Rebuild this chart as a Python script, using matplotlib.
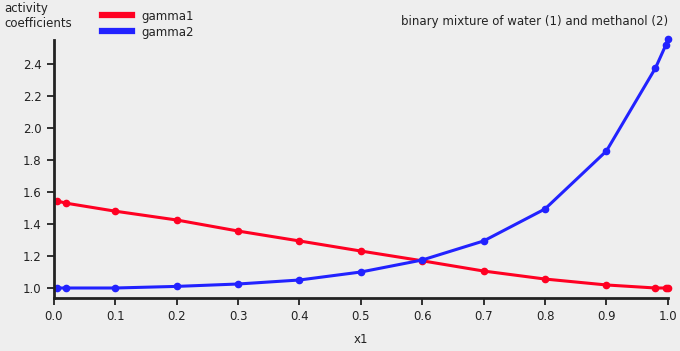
import matplotlib
matplotlib.use("Agg")
import matplotlib.pyplot as plt

# mole fraction of water and activity coefficients
x1 = [0.005, 0.02, 0.1, 0.2, 0.3, 0.4, 0.5, 0.6, 0.7, 0.8, 0.9, 0.98, 0.997, 1.0]
gamma1 = [1.544, 1.53, 1.48, 1.425, 1.356, 1.294, 1.231, 1.17, 1.106, 1.056, 1.019, 1.0, 1.0, 1.0]
gamma2 = [1.0, 1.0, 1.0, 1.01, 1.025, 1.05, 1.1, 1.175, 1.294, 1.494, 1.856, 2.375, 2.52, 2.556]

xticks = [0.0, 0.1, 0.2, 0.3, 0.4, 0.5, 0.6, 0.7, 0.8, 0.9, 1.0]
yticks = [1.0, 1.2, 1.4, 1.6, 1.8, 2.0, 2.2, 2.4]

bg = '#eeeeee'
red = '#ff0022'
blue = '#2222ff'
dark = '#222222'
fs = 8.5

fig = plt.figure(figsize=(6.8, 3.51), dpi=100, facecolor=bg)
ax = fig.add_axes([0.0794, 0.151, 0.9026, 0.735], facecolor=bg)

l1, = ax.plot(x1, gamma1, color=red, lw=2.2, marker='o', ms=4.5, label='gamma1', clip_on=False)
l2, = ax.plot(x1, gamma2, color=blue, lw=2.2, marker='o', ms=4.5, label='gamma2', clip_on=False)

ax.set_xlim(0, 1.0)
ax.set_ylim(0.9375, 2.55)
ax.set_xticks(xticks)
ax.set_xticklabels(['%.1f' % v for v in xticks])
ax.set_yticks(yticks)
ax.set_yticklabels(['%.1f' % v for v in yticks])
ax.tick_params(direction='out', length=5, width=1.3, color=dark, labelcolor=dark, labelsize=fs, pad=4)

for s in ['top', 'right']:
    ax.spines[s].set_visible(False)
for s in ['left', 'bottom']:
    ax.spines[s].set_color(dark)
    ax.spines[s].set_linewidth(2)

ax.set_xlabel('x1', fontsize=fs, color=dark, labelpad=7)

fig.text(0.006, 0.995, 'activity\ncoefficients', fontsize=fs, color=dark, va='top', ha='left', linespacing=1.2)
fig.text(0.982, 0.94, 'binary mixture of water (1) and methanol (2)', fontsize=fs, color=dark, ha='right', va='center')

fig.legend(handles=[l1, l2], labels=['gamma1', 'gamma2'], loc='upper left', bbox_to_anchor=(0.135, 1.003),
           frameon=False, fontsize=fs, handlelength=2.5, handletextpad=0.8, labelspacing=0.25,
           labelcolor=dark)
leg = fig.legends[0]
for h in leg.legend_handles:
    h.set_marker('')
    h.set_linewidth(4.5)

fig.savefig('out.png', dpi=100, facecolor=bg)
